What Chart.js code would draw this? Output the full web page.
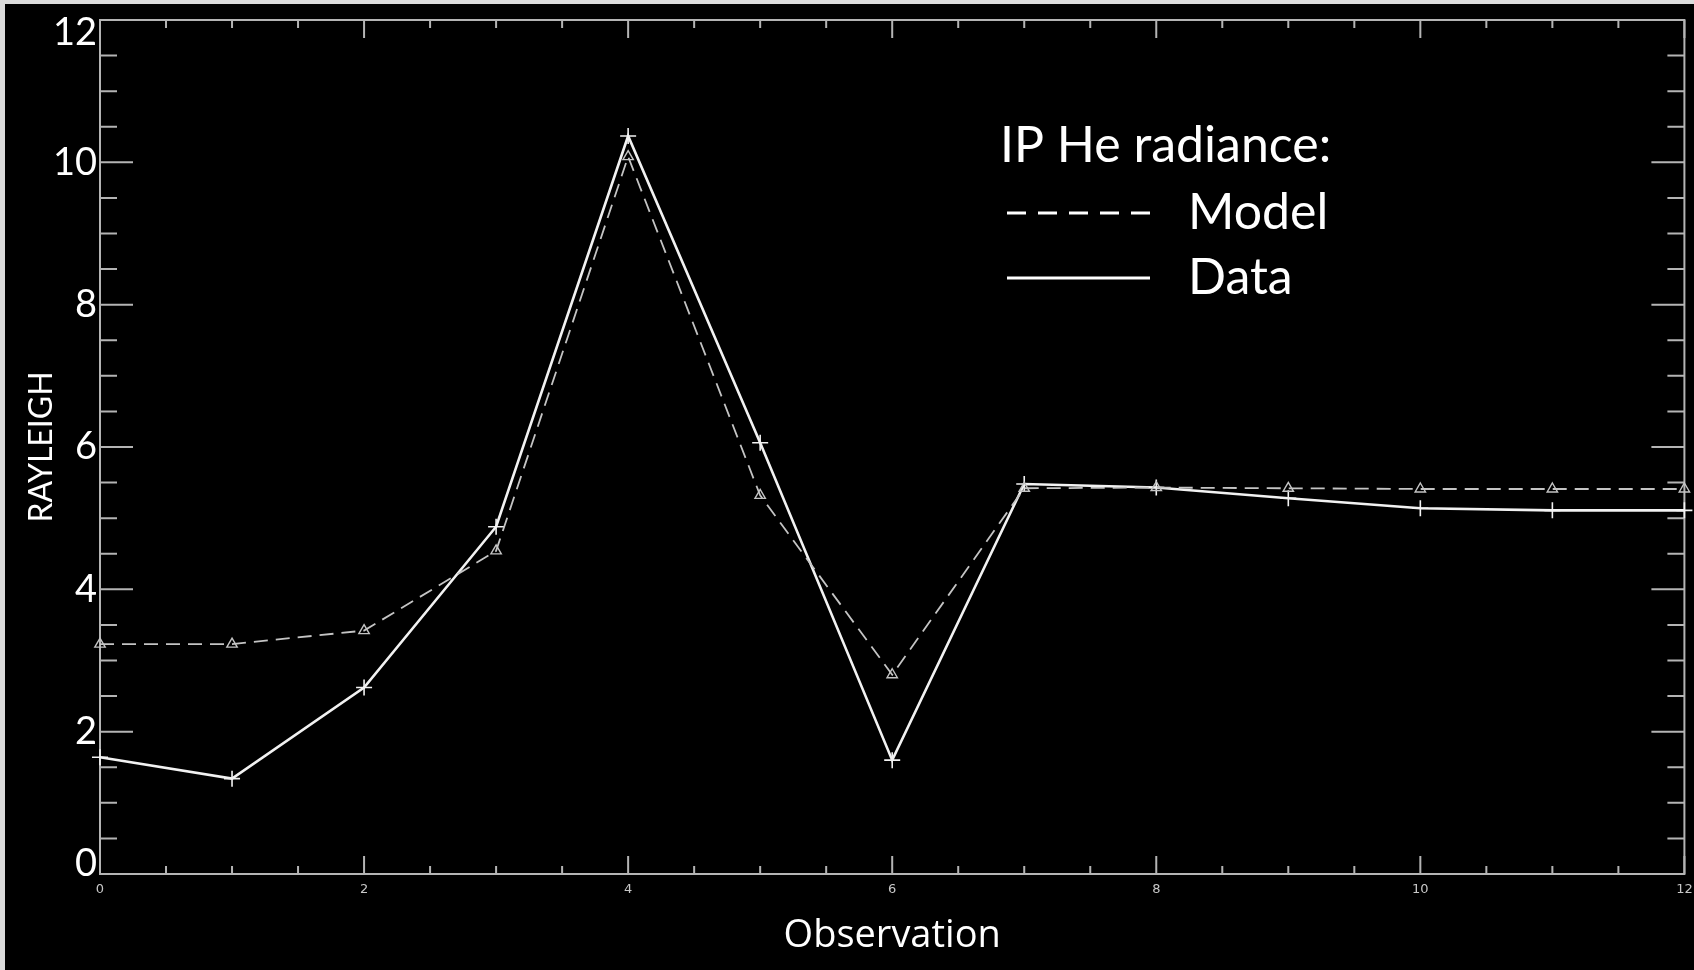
<!DOCTYPE html>
<html>
<head>
<meta charset="utf-8">
<script src="https://cdn.jsdelivr.net/npm/chart.js@4.4.1/dist/chart.umd.min.js"></script>
<style>
  html, body { margin: 0; padding: 0; background: #dcdcdc; overflow: hidden; }
  #wrap { position: absolute; left: 5px; top: 4px; width: 1689px; height: 966px; background: #000; }
  canvas { display: block; }
</style>
</head>
<body>
<div id="wrap"><canvas id="chartRadiance" width="1689" height="966"></canvas></div>
<script>
// IP He radiance per observation (Rayleigh)
const observations = [0, 1, 2, 3, 4, 5, 6, 7, 8, 9, 10, 11, 12];
const modelValues = [3.23, 3.23, 3.42, 4.54, 10.08, 5.32, 2.80, 5.42, 5.43, 5.42, 5.41, 5.41, 5.41];
const dataValues = [1.64, 1.34, 2.62, 4.88, 10.37, 6.06, 1.60, 5.48, 5.43, 5.28, 5.14, 5.11, 5.11];
const xTickLabels = ['0', '2', '4', '6', '8', '10', '12'];
const yTickLabels = ['0', '2', '4', '6', '8', '10', '12'];
const legendTitle = 'IP He radiance:';

const AXIS = '#b4b4b4';
const FONT = 'Lato, "Open Sans", sans-serif';

// axis box with inward ticks on all four sides, minor every 0.5
const frame = {
    id: 'frame',
    beforeDatasetsDraw(chart) {
        const { ctx, chartArea: a, scales: { x, y } } = chart;
        ctx.save();
        ctx.strokeStyle = AXIS;
        ctx.lineWidth = 2;
        ctx.strokeRect(a.left, a.top, a.right - a.left, a.bottom - a.top);
        ctx.beginPath();
        for (let v = 0; v <= 12; v += 0.5) {
            const major = v % 2 === 0;
            const px = x.getPixelForValue(v);
            const lx = major ? 18 : 8;
            ctx.moveTo(px, a.bottom); ctx.lineTo(px, a.bottom - lx);
            ctx.moveTo(px, a.top); ctx.lineTo(px, a.top + lx);
            const py = y.getPixelForValue(v);
            const ly = major ? 33 : 17;
            ctx.moveTo(a.left, py); ctx.lineTo(a.left + ly, py);
            ctx.moveTo(a.right, py); ctx.lineTo(a.right - ly, py);
        }
        ctx.stroke();
        ctx.restore();
    },
    afterDraw(chart) {
        const { ctx, chartArea: a, scales: { x, y } } = chart;
        ctx.save();
        // x tick labels, small and grey
        ctx.fillStyle = '#c8c8c8';
        ctx.font = '13px "DejaVu Sans"';
        ctx.textAlign = 'center';
        ctx.textBaseline = 'middle';
        xTickLabels.forEach(t => {
            ctx.fillText(t, x.getPixelForValue(Number(t)), a.bottom + 16);
        });

        // y tick labels, kept inside the box at both ends
        ctx.fillStyle = '#fff';
        ctx.font = '38px ' + FONT;
        ctx.textAlign = 'right';
        yTickLabels.forEach(t => {
            let py = y.getPixelForValue(Number(t));
            py = Math.min(Math.max(py, a.top + 13), a.bottom - 10);
            ctx.fillText(t, a.left - 3, py);
        });

        // legend
        const ds = chart.data.datasets;
        ctx.textAlign = 'left';
        ctx.textBaseline = 'alphabetic';
        ctx.font = '50px ' + FONT;
        ctx.fillText(legendTitle, 995, 158);
        const rows = [[ds[0], 209], [ds[1], 274]];
        ctx.textBaseline = 'middle';
        rows.forEach(([d, ly]) => {
            ctx.beginPath();
            ctx.strokeStyle = '#fff';
            ctx.lineWidth = 3;
            ctx.setLineDash(d.borderDash ? [19, 12] : []);
            ctx.moveTo(1002, ly); ctx.lineTo(1145, ly);
            ctx.stroke();
            ctx.setLineDash([]);
            ctx.fillText(d.label, 1183, ly);
        });
        ctx.restore();
    }
};

new Chart(document.getElementById('chartRadiance'), {
    type: 'line',
    data: {
        datasets: [{
            label: 'Model',
            data: observations.map((o, i) => ({ x: o, y: modelValues[i] })),
            borderColor: '#c4c4c4',
            borderWidth: 1.8,
            borderDash: [14, 8],
            pointStyle: 'triangle',
            pointRadius: 6,
            pointBorderWidth: 1.4,
            pointBorderColor: '#c4c4c4',
            pointBackgroundColor: 'rgba(0,0,0,0)',
            tension: 0,
            clip: false
        }, {
            label: 'Data',
            data: observations.map((o, i) => ({ x: o, y: dataValues[i] })),
            borderColor: '#f2f2f2',
            borderWidth: 2.6,
            pointStyle: 'cross',
            pointRadius: 8,
            pointBorderWidth: 1.6,
            pointBorderColor: '#f2f2f2',
            tension: 0,
            clip: false
        }]
    },
    options: {
        responsive: false,
        animation: false,
        devicePixelRatio: 1,
        layout: { padding: { left: 0, top: 16, right: 7, bottom: 0 } },
        plugins: { legend: { display: false }, tooltip: { enabled: false } },
        scales: {
            x: {
                type: 'linear',
                min: 0, max: 12,
                grid: { display: false, drawTicks: false },
                border: { display: false },
                ticks: { display: false, stepSize: 2 },
                // Open Sans here: Lato joins the "ti"
                title: { display: true, text: 'Observation', color: '#fff', font: { family: '"Open Sans"', size: 38 }, padding: { bottom: 11 } },
                afterFit(s) { s.height = 96; }
            },
            y: {
                min: 0, max: 12,
                grid: { display: false, drawTicks: false },
                border: { display: false },
                ticks: { display: false, stepSize: 2 },
                title: { display: true, text: 'RAYLEIGH', color: '#fff', font: { family: FONT, size: 32 }, padding: { top: 17 } },
                afterFit(s) { s.width = 95; }
            }
        }
    },
    plugins: [frame]
});
</script>
</body>
</html>
